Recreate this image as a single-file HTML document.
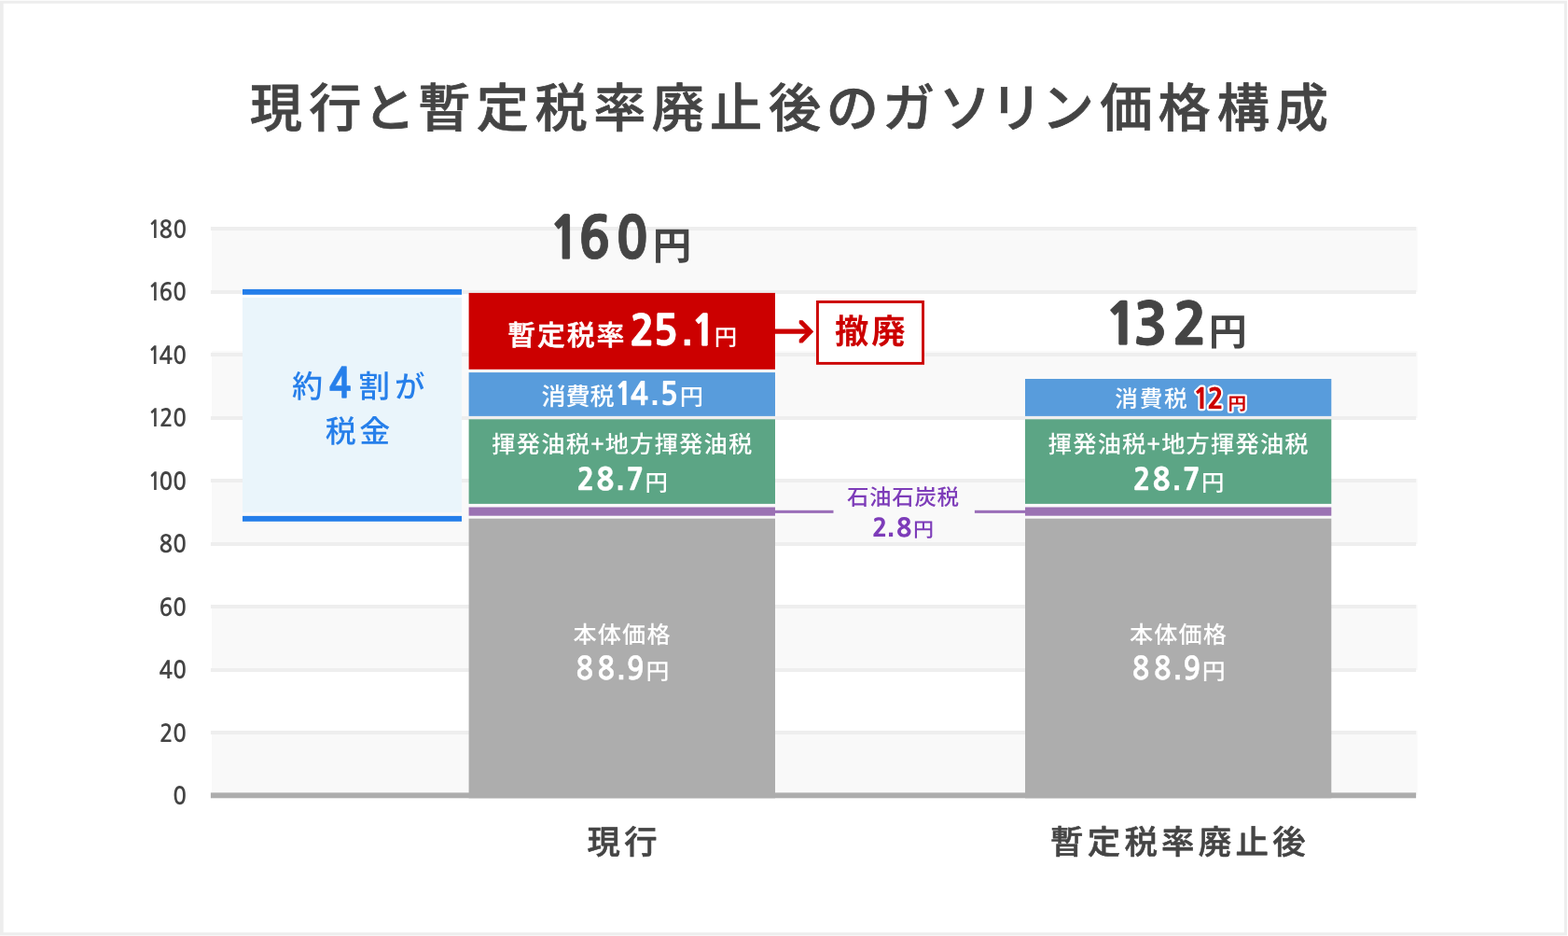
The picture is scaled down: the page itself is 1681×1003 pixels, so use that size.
<!DOCTYPE html>
<html lang="ja">
<head>
<meta charset="utf-8">
<title>現行と暫定税率廃止後のガソリン価格構成</title>
<style>
html,body{margin:0;padding:0;background:#ffffff;}
body{width:1681px;height:1003px;overflow:hidden;font-family:"Liberation Sans","Noto Sans CJK JP",sans-serif;}
svg{display:block;}
text{white-space:pre;}
text.p{font-feature-settings:"palt";}
</style>
</head>
<body>
<svg width="1681" height="1003" viewBox="0 0 1681 1003" role="img" aria-label="現行と暫定税率廃止後のガソリン価格構成">
<rect x="0" y="0" width="1681" height="1003" fill="#ffffff"/>
<path d="M0 0.7H1679.9V1002.4H0Z M3.7 3.7V999.3H1677V3.7Z" fill="#ededed" fill-rule="evenodd"/>
<rect x="227.0" y="243" width="1292.70" height="70.00" fill="#f9f9f9"/>
<rect x="227.0" y="376.2" width="1292.70" height="71.80" fill="#f9f9f9"/>
<rect x="227.0" y="513" width="1292.70" height="70.00" fill="#f9f9f9"/>
<rect x="227.0" y="648" width="1292.70" height="70.00" fill="#f9f9f9"/>
<rect x="227.0" y="783" width="1292.70" height="69.00" fill="#f9f9f9"/>
<rect x="225.9" y="243" width="1292.20" height="4" fill="#eeeeee"/>
<rect x="225.9" y="311" width="1292.20" height="4" fill="#eeeeee"/>
<rect x="225.9" y="378" width="1292.20" height="4" fill="#eeeeee"/>
<rect x="225.9" y="446" width="1292.20" height="4" fill="#eeeeee"/>
<rect x="225.9" y="513" width="1292.20" height="4" fill="#eeeeee"/>
<rect x="225.9" y="581" width="1292.20" height="4" fill="#eeeeee"/>
<rect x="225.9" y="648" width="1292.20" height="4" fill="#eeeeee"/>
<rect x="225.9" y="716" width="1292.20" height="4" fill="#eeeeee"/>
<rect x="225.9" y="783" width="1292.20" height="4" fill="#eeeeee"/>
<rect x="225.9" y="849.4" width="1292.20" height="5.9" fill="#adadad"/>
<rect x="260" y="318.8" width="235" height="230.3" fill="#eaf5fb"/>
<rect x="260" y="309.9" width="235" height="5.9" fill="#247eea"/>
<rect x="260" y="552.9" width="235" height="5.9" fill="#247eea"/>
<rect x="502.6" y="313.9" width="328.40" height="81.90" fill="#cc0000"/>
<rect x="502.6" y="399.1" width="328.40" height="46.80" fill="#589cdc"/>
<rect x="502.6" y="449.3" width="328.40" height="90.60" fill="#5ca585"/>
<rect x="502.6" y="543.5" width="328.40" height="9.20" fill="#9b72b3"/>
<rect x="502.6" y="555.7" width="328.40" height="299.60" fill="#adadad"/>
<rect x="1099.0" y="406.0" width="328.30" height="39.90" fill="#589cdc"/>
<rect x="1099.0" y="449.3" width="328.30" height="90.60" fill="#5ca585"/>
<rect x="1099.0" y="543.5" width="328.30" height="9.20" fill="#9b72b3"/>
<rect x="1099.0" y="555.7" width="328.30" height="299.60" fill="#adadad"/>
<rect x="831" y="546.8" width="62.5" height="3.1" fill="#9b6fb9"/>
<rect x="1044.9" y="546.8" width="54.1" height="3.1" fill="#9b6fb9"/>
<path d="M831 355.15H869" stroke="#cc0000" stroke-width="5.1" fill="none"/>
<path d="M857.3 343.8L860.25 343.8L871.5 355.3L860.25 366.8L857.3 366.8L857.3 364.25L866.25 355.3L857.3 346.35Z" fill="#cc0000" stroke="#cc0000" stroke-width="1.2" stroke-linejoin="round"/>
<rect x="876.45" y="323.45" width="113.1" height="65.9" fill="#ffffff" stroke="#cc0000" stroke-width="2.9"/>
<g text-rendering="geometricPrecision">
<g aria-label="現行と暫定税率廃止後のガソリン価格構成">
<text transform="translate(0.00 136.15)" x="267.80 331.36 389.26 448.17 510.67 573.54 636.13 698.74 761.11 824.11 885.80 945.91 1006.45 1061.56 1116.86 1179.14 1241.57 1304.87 1367.76" font-family='"Noto Sans CJK JP", "Liberation Sans", sans-serif' font-weight="500" font-size="56.21" fill="#444444" stroke="#444444" stroke-width="0.7" stroke-linejoin="round" paint-order="stroke">現行と暫定税率廃止後のガソリン価格構成</text>
</g>
<g aria-label="縦軸 0〜180">
<text transform="translate(0.00 254.94) scale(0.9300 1)" x="170.34 183.30 199.33" font-family='"NanumGothic", "Liberation Sans", sans-serif' font-weight="700" font-size="25.98" fill="#444444">180</text>
<text transform="translate(0.00 322.40) scale(0.9300 1)" x="170.32 183.24 199.31" font-family='"NanumGothic", "Liberation Sans", sans-serif' font-weight="700" font-size="26.06" fill="#444444">160</text>
<text transform="translate(0.00 389.92) scale(0.9300 1)" x="170.28 183.35 199.26" font-family='"NanumGothic", "Liberation Sans", sans-serif' font-weight="700" font-size="26.23" fill="#444444">140</text>
<text transform="translate(0.00 457.38) scale(0.9300 1)" x="170.30 183.81 199.28" font-family='"NanumGothic", "Liberation Sans", sans-serif' font-weight="700" font-size="26.15" fill="#444444">120</text>
<text transform="translate(0.00 524.84) scale(0.9300 1)" x="170.30 183.31 199.28" font-family='"NanumGothic", "Liberation Sans", sans-serif' font-weight="700" font-size="26.15" fill="#444444">100</text>
<text transform="translate(0.00 592.24) scale(0.9300 1)" x="183.28 199.31" font-family='"NanumGothic", "Liberation Sans", sans-serif' font-weight="700" font-size="26.06" fill="#444444">80</text>
<text transform="translate(0.00 659.70) scale(0.9300 1)" x="183.24 199.31" font-family='"NanumGothic", "Liberation Sans", sans-serif' font-weight="700" font-size="26.06" fill="#444444">60</text>
<text transform="translate(0.00 727.22) scale(0.9300 1)" x="183.38 199.28" font-family='"NanumGothic", "Liberation Sans", sans-serif' font-weight="700" font-size="26.15" fill="#444444">40</text>
<text transform="translate(0.00 794.68) scale(0.9300 1)" x="183.83 199.31" font-family='"NanumGothic", "Liberation Sans", sans-serif' font-weight="700" font-size="26.06" fill="#444444">20</text>
<text transform="translate(0.00 862.14) scale(0.9300 1)" x="199.26" font-family='"NanumGothic", "Liberation Sans", sans-serif' font-weight="700" font-size="26.23" fill="#444444">0</text>
</g>
<g aria-label="160円">
<text transform="translate(0.00 277.38) scale(0.9127 1)" x="645.18 679.61 723.35" font-family='"NanumGothic", "Liberation Sans", sans-serif' font-weight="800" font-size="61.32" fill="#444444" stroke="#444444" stroke-width="0.8" stroke-linejoin="round" paint-order="stroke">160</text>
<text class="p" transform="translate(699.78 278.22) scale(1.0151 1)" font-family='"Noto Sans CJK JP", "Liberation Sans", sans-serif' font-weight="700" font-size="40.91" fill="#444444">円</text>
</g>
<g aria-label="132円">
<text transform="translate(0.00 369.04) scale(1.0025 1)" x="1181.31 1212.07 1254.05" font-family='"NanumGothic", "Liberation Sans", sans-serif' font-weight="800" font-size="60.75" fill="#444444" stroke="#444444" stroke-width="0.8" stroke-linejoin="round" paint-order="stroke">132</text>
<text class="p" transform="translate(1295.72 370.05) scale(1.0121 1)" font-family='"Noto Sans CJK JP", "Liberation Sans", sans-serif' font-weight="700" font-size="40.57" fill="#444444">円</text>
</g>
<g aria-label="暫定税率25.1円">
<text class="p" transform="translate(544.23 370.05)" font-family='"Noto Sans CJK JP", "Liberation Sans", sans-serif' font-weight="500" font-size="29.95" letter-spacing="1.84" fill="#ffffff" stroke="#ffffff" stroke-width="0.5" stroke-linejoin="round" paint-order="stroke">暫定税率</text>
<text transform="translate(0.00 369.70) scale(0.9809 1)" x="688.32 713.88 745.42 755.80" font-family='"NanumGothic", "Liberation Sans", sans-serif' font-weight="800" font-size="44.56" fill="#ffffff" stroke="#ffffff" stroke-width="0.5" stroke-linejoin="round" paint-order="stroke">25<tspan font-family='"Liberation Sans", sans-serif' font-weight="700" font-size="40.78">.</tspan>1</text>
<text class="p" transform="translate(765.72 369.94) scale(1.0082 1)" font-family='"Noto Sans CJK JP", "Liberation Sans", sans-serif' font-weight="500" font-size="24.23" fill="#ffffff">円</text>
</g>
<g aria-label="消費税14.5円">
<text class="p" transform="translate(580.38 434.41)" font-family='"Noto Sans CJK JP", "Liberation Sans", sans-serif' font-weight="500" font-size="26.17" letter-spacing="-0.11" fill="#ffffff">消費税</text>
<text transform="translate(0.00 434.15) scale(0.9552 1)" x="689.99 707.46 730.35 740.79" font-family='"NanumGothic", "Liberation Sans", sans-serif' font-weight="800" font-size="33.59" fill="#ffffff">14<tspan font-family='"Liberation Sans", sans-serif' font-weight="700" font-size="33.80">.</tspan>5</text>
<text class="p" transform="translate(728.65 434.12) scale(1.0329 1)" font-family='"Noto Sans CJK JP", "Liberation Sans", sans-serif' font-weight="500" font-size="24.46" fill="#ffffff">円</text>
</g>
<g aria-label="消費税12円">
<text class="p" transform="translate(1195.24 435.84)" font-family='"Noto Sans CJK JP", "Liberation Sans", sans-serif' font-weight="500" font-size="24.66" letter-spacing="1.74" fill="#ffffff">消費税</text>
<text transform="translate(0.00 437.92) scale(0.9700 1)" x="1318.59 1334.26" font-family='"NanumGothic", "Liberation Sans", sans-serif' font-weight="800" font-size="30.13" fill="#cc0000" stroke="#ffffff" stroke-width="4.2" stroke-linejoin="round" paint-order="stroke">12</text>
<text class="p" transform="translate(1316.53 438.54) scale(1.0645 1)" font-family='"Noto Sans CJK JP", "Liberation Sans", sans-serif' font-weight="700" font-size="18.40" fill="#cc0000" stroke="#ffffff" stroke-width="4.2" stroke-linejoin="round" paint-order="stroke">円</text>
</g>
<g aria-label="揮発油税+地方揮発油税 28.7円">
<text class="p" transform="translate(527.37 485.29)" font-family='"Noto Sans CJK JP", "Liberation Sans", sans-serif' font-weight="500" font-size="25.24" letter-spacing="1.21" fill="#ffffff">揮発油税+地方揮発油税</text>
<text transform="translate(0.00 525.29) scale(0.9680 1)" x="638.87 660.54 682.63 693.78" font-family='"NanumGothic", "Liberation Sans", sans-serif' font-weight="800" font-size="32.09" fill="#ffffff" stroke="#ffffff" stroke-width="0.25" stroke-linejoin="round" paint-order="stroke">28<tspan font-family='"Liberation Sans", sans-serif' font-weight="700" font-size="32.26">.</tspan>7</text>
<text class="p" transform="translate(691.62 525.93) scale(1.0034 1)" font-family='"Noto Sans CJK JP", "Liberation Sans", sans-serif' font-weight="500" font-size="24.35" fill="#ffffff">円</text>
</g>
<g aria-label="本体価格 88.9円">
<text class="p" transform="translate(614.61 689.16)" font-family='"Noto Sans CJK JP", "Liberation Sans", sans-serif' font-weight="500" font-size="25.16" letter-spacing="1.10" fill="#ffffff">本体価格</text>
<text transform="translate(0.00 728.01) scale(0.9117 1)" x="677.24 702.52 726.12 737.14" font-family='"NanumGothic", "Liberation Sans", sans-serif' font-weight="700" font-size="33.57" fill="#ffffff" stroke="#ffffff" stroke-width="0.5" stroke-linejoin="round" paint-order="stroke">88<tspan font-family='"Liberation Sans", sans-serif' font-weight="700" font-size="31.56">.</tspan>9</text>
<text class="p" transform="translate(692.38 728.25) scale(1.0329 1)" font-family='"Noto Sans CJK JP", "Liberation Sans", sans-serif' font-weight="500" font-size="24.12" fill="#ffffff">円</text>
</g>
<g aria-label="揮発油税+地方揮発油税 28.7円">
<text class="p" transform="translate(1123.77 485.29)" font-family='"Noto Sans CJK JP", "Liberation Sans", sans-serif' font-weight="500" font-size="25.24" letter-spacing="1.21" fill="#ffffff">揮発油税+地方揮発油税</text>
<text transform="translate(0.00 525.29) scale(0.9680 1)" x="1254.95 1276.63 1298.71 1309.86" font-family='"NanumGothic", "Liberation Sans", sans-serif' font-weight="800" font-size="32.09" fill="#ffffff" stroke="#ffffff" stroke-width="0.25" stroke-linejoin="round" paint-order="stroke">28<tspan font-family='"Liberation Sans", sans-serif' font-weight="700" font-size="32.26">.</tspan>7</text>
<text class="p" transform="translate(1288.02 525.93) scale(1.0034 1)" font-family='"Noto Sans CJK JP", "Liberation Sans", sans-serif' font-weight="500" font-size="24.35" fill="#ffffff">円</text>
</g>
<g aria-label="本体価格 88.9円">
<text class="p" transform="translate(1211.01 689.16)" font-family='"Noto Sans CJK JP", "Liberation Sans", sans-serif' font-weight="500" font-size="25.16" letter-spacing="1.10" fill="#ffffff">本体価格</text>
<text transform="translate(0.00 728.01) scale(0.9117 1)" x="1331.39 1356.68 1380.28 1391.30" font-family='"NanumGothic", "Liberation Sans", sans-serif' font-weight="700" font-size="33.57" fill="#ffffff" stroke="#ffffff" stroke-width="0.5" stroke-linejoin="round" paint-order="stroke">88<tspan font-family='"Liberation Sans", sans-serif' font-weight="700" font-size="31.56">.</tspan>9</text>
<text class="p" transform="translate(1288.78 728.25) scale(1.0329 1)" font-family='"Noto Sans CJK JP", "Liberation Sans", sans-serif' font-weight="500" font-size="24.12" fill="#ffffff">円</text>
</g>
<g aria-label="石油石炭税 2.8円">
<text class="p" transform="translate(907.93 541.45)" font-family='"Noto Sans CJK JP", "Liberation Sans", sans-serif' font-weight="500" font-size="23.49" letter-spacing="0.68" fill="#7d3cb9">石油石炭税</text>
<text transform="translate(0.00 574.86) scale(1.0117 1)" x="924.16 939.98 950.01" font-family='"NanumGothic", "Liberation Sans", sans-serif' font-weight="800" font-size="26.75" fill="#7d3cb9">2<tspan font-family='"Liberation Sans", sans-serif' font-weight="700" font-size="29.13">.</tspan>8</text>
<text class="p" transform="translate(978.93 575.10) scale(1.0386 1)" font-family='"Noto Sans CJK JP", "Liberation Sans", sans-serif' font-weight="500" font-size="21.22" fill="#7d3cb9">円</text>
</g>
<g aria-label="約4割が税金">
<text class="p" transform="translate(312.95 426.28) scale(0.9946 1)" font-family='"Noto Sans CJK JP", "Liberation Sans", sans-serif' font-weight="500" font-size="33.35" fill="#267fea">約</text>
<text transform="translate(0.00 425.67) scale(0.8999 1)" x="391.95" font-family='"NanumGothic", "Liberation Sans", sans-serif' font-weight="800" font-size="43.46" fill="#267fea" stroke="#267fea" stroke-width="0.4" stroke-linejoin="round" paint-order="stroke">4</text>
<text class="p" transform="translate(384.41 426.42) scale(0.9944 1)" font-family='"Noto Sans CJK JP", "Liberation Sans", sans-serif' font-weight="500" font-size="33.71" fill="#267fea">割</text>
<text class="p" transform="translate(423.11 426.12) scale(0.9983 1)" font-family='"Noto Sans CJK JP", "Liberation Sans", sans-serif' font-weight="500" font-size="32.53" fill="#267fea">が</text>
<text class="p" transform="translate(348.77 474.19)" font-family='"Noto Sans CJK JP", "Liberation Sans", sans-serif' font-weight="500" font-size="33.03" letter-spacing="3.38" fill="#267fea">税金</text>
</g>
<g aria-label="撤廃">
<text class="p" transform="translate(894.97 368.15)" font-family='"Noto Sans CJK JP", "Liberation Sans", sans-serif' font-weight="700" font-size="36.30" letter-spacing="3.08" fill="#cc0000">撤廃</text>
</g>
<g aria-label="現行">
<text class="p" transform="translate(629.39 914.74)" font-family='"Noto Sans CJK JP", "Liberation Sans", sans-serif' font-weight="500" font-size="35.35" letter-spacing="4.64" fill="#444444" stroke="#444444" stroke-width="0.55" stroke-linejoin="round" paint-order="stroke">現行</text>
</g>
<g aria-label="暫定税率廃止後">
<text class="p" transform="translate(1126.09 914.83)" font-family='"Noto Sans CJK JP", "Liberation Sans", sans-serif' font-weight="500" font-size="35.45" letter-spacing="4.24" fill="#444444" stroke="#444444" stroke-width="0.55" stroke-linejoin="round" paint-order="stroke">暫定税率廃止後</text>
</g>
</g>
</svg>
</body>
</html>
